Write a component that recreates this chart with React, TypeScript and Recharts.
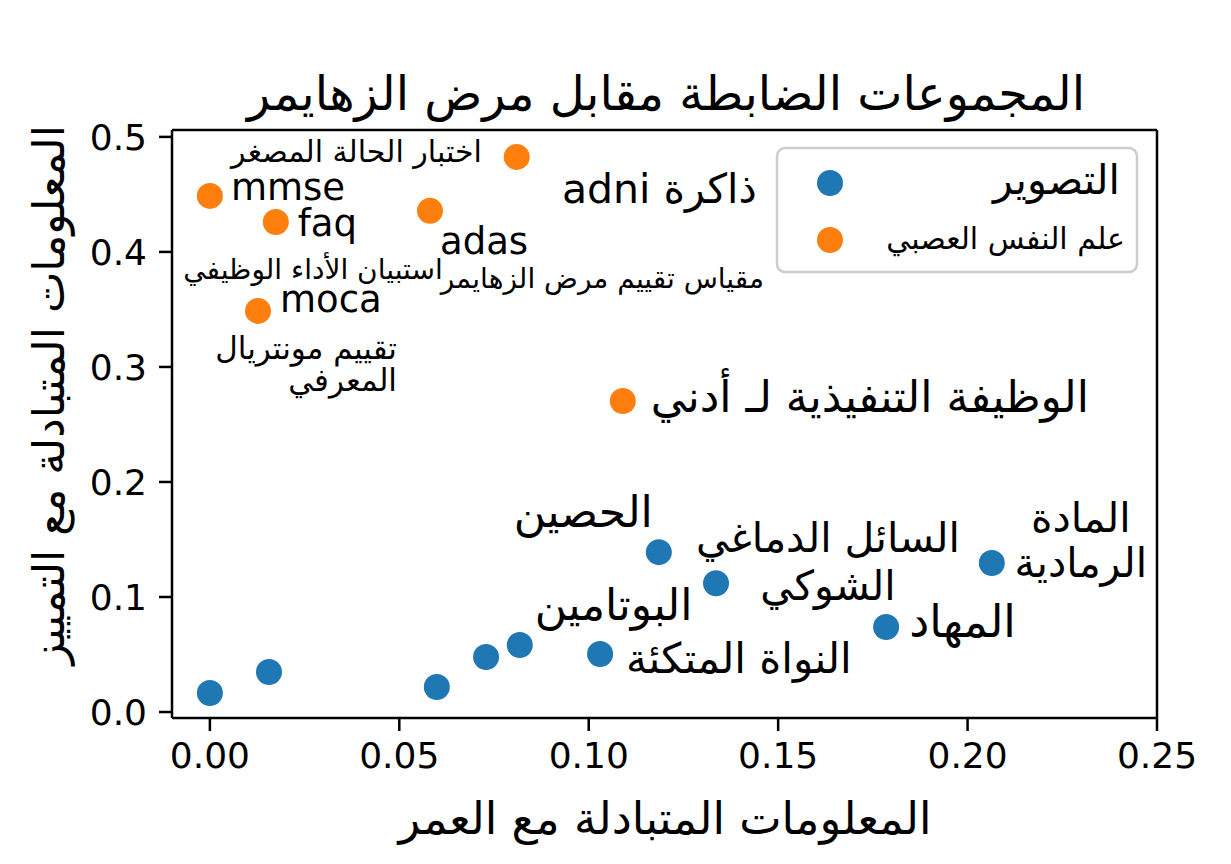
import { ScatterChart, Scatter, XAxis, YAxis, ReferenceLine } from 'recharts'

const BLUE = '#1f77b4'
const ORANGE = '#ff7f0e'

// imaging features: MI with age (x) and MI with diagnosis (y)
const imagingAgeMI = [0.0, 0.0156, 0.0599, 0.0729, 0.0818, 0.103, 0.1185, 0.1336, 0.1785, 0.2064]
const imagingDiagMI = [0.0165, 0.0348, 0.0217, 0.0478, 0.0583, 0.0504, 0.139, 0.112, 0.0739, 0.1296]
const imagingNames = ['', '', '', '', 'البوتامين', 'النواة المتكئة', 'الحصين', 'السائل الدماغي\nالشوكي', 'المهاد', 'المادة\nالرمادية']

// neuropsych features
const neuroAgeMI = [0.0, 0.0174, 0.0127, 0.0581, 0.081, 0.109]
const neuroDiagMI = [0.4487, 0.426, 0.3487, 0.4357, 0.4826, 0.2704]
const neuroNames = ['mmse', 'faq', 'moca', 'adas', '\u202Bذاكرة adni\u202C', 'الوظيفة التنفيذية لـ أدني']
const neuroArabic = ['اختبار الحالة المصغر', 'استبيان الأداء الوظيفي', 'تقييم مونتريال\nالمعرفي', 'مقياس تقييم مرض الزهايمر', '', '']

const xTicks = [0, 0.05, 0.1, 0.15, 0.2, 0.25]
const yTicks = [0, 0.1, 0.2, 0.3, 0.4, 0.5]
const xDomain = [-0.01, 0.25]
const yDomain = [-0.0052, 0.506]

type Anchor = 'start' | 'middle' | 'end'
type Place = { dx: number; dy: number; anchor: Anchor; size: number; lh?: number }

// label placement, pixel offsets from each point
const imagingPlace: (Place | null)[] = [
  null, null, null, null,
  { dx: 15, dy: -25, anchor: 'start', size: 44 },
  { dx: 26, dy: 19, anchor: 'start', size: 42 },
  { dx: -6, dy: -25, anchor: 'end', size: 44 },
  { dx: 112, dy: -31, anchor: 'middle', size: 41, lh: 48 },
  { dx: 23, dy: 10, anchor: 'start', size: 45 },
  { dx: 89, dy: -31, anchor: 'middle', size: 41, lh: 45 },
]
const neuroPlace: Place[] = [
  { dx: 21, dy: 4, anchor: 'start', size: 37 },
  { dx: 22, dy: 14, anchor: 'start', size: 37 },
  { dx: 22, dy: 1, anchor: 'start', size: 37 },
  { dx: 10, dy: 43, anchor: 'start', size: 37 },
  { dx: 240, dy: 46, anchor: 'end', size: 41 },
  { dx: 28, dy: 11, anchor: 'start', size: 44 },
]
const arabicPlace: (Place | null)[] = [
  { dx: 272, dy: -34, anchor: 'end', size: 30 },
  { dx: 167, dy: 57, anchor: 'end', size: 28 },
  { dx: 139, dy: 48, anchor: 'end', size: 31, lh: 32 },
  { dx: 334, dy: 77, anchor: 'end', size: 28 },
  null, null,
]

const imaging = imagingAgeMI.map((x, i) => ({ x, y: imagingDiagMI[i], name: imagingNames[i], i }))
const neuro = neuroAgeMI.map((x, i) => ({ x, y: neuroDiagMI[i], name: neuroNames[i], i }))

function Label({ cx, cy, text, p }: { cx: number; cy: number; text: string; p: Place | null }) {
  if (!p || !text) return null
  const lines = text.split('\n')
  return (
    <text x={cx + p.dx} y={cy + p.dy} fontSize={p.size} textAnchor={p.anchor} fill="#000" fontFamily="DejaVu Sans">
      {lines.map((l, k) => (
        <tspan key={k} x={cx + p.dx} dy={k === 0 ? 0 : p.lh}>{l}</tspan>
      ))}
    </text>
  )
}

function imagingShape(props: any) {
  const { cx, cy, payload } = props
  return (
    <g>
      <circle cx={cx} cy={cy} r={13} fill={BLUE} />
      <Label cx={cx} cy={cy} text={payload.name} p={imagingPlace[payload.i]} />
    </g>
  )
}

function neuroShape(props: any) {
  const { cx, cy, payload } = props
  return (
    <g>
      <circle cx={cx} cy={cy} r={13} fill={ORANGE} />
      <Label cx={cx} cy={cy} text={payload.name} p={neuroPlace[payload.i]} />
      <Label cx={cx} cy={cy} text={neuroArabic[payload.i]} p={arabicPlace[payload.i]} />
    </g>
  )
}

export default function App() {
  const font = 'DejaVu Sans'
  return (
    <div style={{ position: 'absolute', left: 0, top: 0, width: 1231, height: 864, background: '#fff', fontFamily: font }}>
      <ScatterChart width={1231} height={864} margin={{ top: 130, right: 74, bottom: 86, left: 82 }}>
        <XAxis
          type="number"
          dataKey="x"
          domain={xDomain}
          ticks={xTicks}
          allowDataOverflow
          height={60}
          tickFormatter={(v: number) => v.toFixed(2)}
          tick={{ fill: '#000', fontSize: 36, fontFamily: font }}
          tickSize={13}
          tickMargin={11}
          axisLine={{ stroke: '#000', strokeWidth: 2.5 }}
          tickLine={{ stroke: '#000', strokeWidth: 2.5 }}
        />
        <YAxis
          type="number"
          dataKey="y"
          domain={yDomain}
          ticks={yTicks}
          allowDataOverflow
          width={90}
          tickFormatter={(v: number) => v.toFixed(1)}
          tick={{ fill: '#000', fontSize: 36, fontFamily: font }}
          tickSize={13}
          tickMargin={12}
          axisLine={{ stroke: '#000', strokeWidth: 2.5 }}
          tickLine={{ stroke: '#000', strokeWidth: 2.5 }}
        />
        <ReferenceLine y={yDomain[1]} stroke="#000" strokeWidth={2.5} />
        <ReferenceLine x={xDomain[1]} stroke="#000" strokeWidth={2.5} />
        <Scatter data={imaging} fill={BLUE} shape={imagingShape} isAnimationActive={false} />
        <Scatter data={neuro} fill={ORANGE} shape={neuroShape} isAnimationActive={false} />
      </ScatterChart>
      <svg width={1231} height={864} style={{ position: 'absolute', left: 0, top: 0, pointerEvents: 'none' }}>
        <text x={666} y={110} textAnchor="middle" fontSize={48} fontFamily={font} fill="#000">
          المجموعات الضابطة مقابل مرض الزهايمر
        </text>
        <text x={665} y={834} textAnchor="middle" fontSize={45} fontFamily={font} fill="#000">
          المعلومات المتبادلة مع العمر
        </text>
        <text
          x={48}
          y={395}
          textAnchor="middle"
          dominantBaseline="central"
          fontSize={44}
          fontFamily={font}
          fill="#000"
          transform="rotate(-90 48 395)"
        >
          المعلومات المتبادلة مع التمييز
        </text>
        <rect x={777} y={148} width={360} height={124} rx={8} fill="#fff" fillOpacity={0.8} stroke="#ccc" strokeWidth={2.5} />
        <circle cx={830} cy={183} r={13} fill={BLUE} />
        <circle cx={830} cy={240} r={13} fill={ORANGE} />
        <text x={1120} y={194} textAnchor="end" fontSize={41} fontFamily={font} fill="#000">التصوير</text>
        <text x={1125} y={249} textAnchor="end" fontSize={30} fontFamily={font} fill="#000">علم النفس العصبي</text>
      </svg>
    </div>
  )
}
